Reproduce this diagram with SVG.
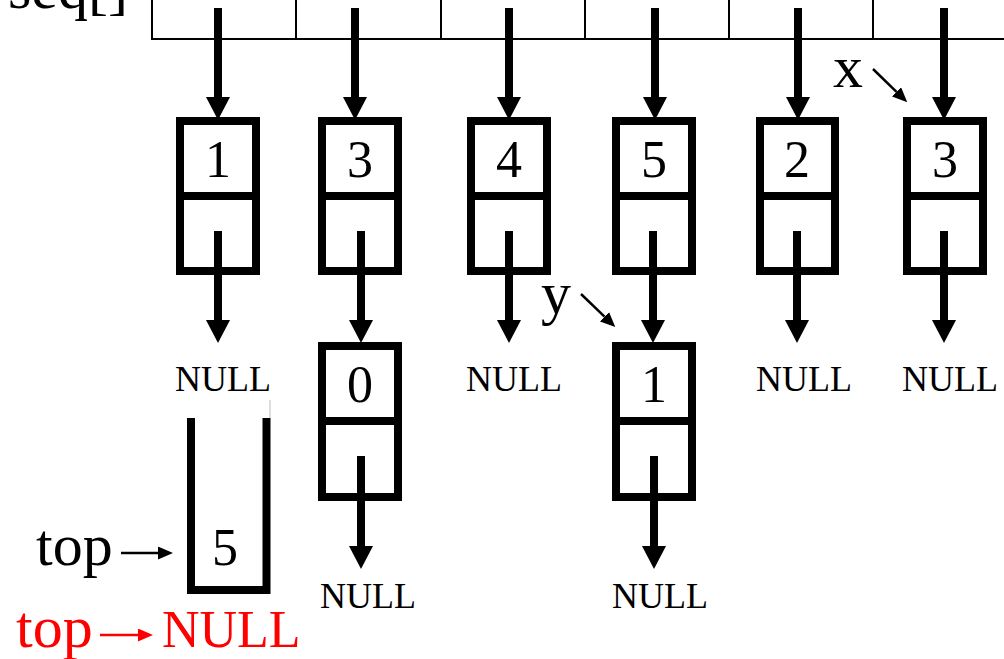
<svg xmlns="http://www.w3.org/2000/svg" width="1004" height="659" viewBox="0 0 1004 659">
<style>
.box{fill:none;stroke:#000;stroke-width:8}
.thin{fill:none;stroke:#000;stroke-width:2}
.sh{stroke:#000;stroke-width:8;fill:none}
.ptr{stroke:#000;stroke-width:2.5;fill:none}
.lbl{font-family:"Liberation Serif","Times New Roman",serif;fill:#000}
.dig{font-family:"Liberation Serif","Times New Roman",serif;font-size:52px;text-anchor:middle;fill:#000}
.nul{font-family:"Liberation Serif","Times New Roman",serif;font-size:36px;fill:#000}
.red{fill:#ff0000}
</style>
<defs>
<marker id="ah" viewBox="0 0 23 24" refX="0" refY="12" markerWidth="23" markerHeight="24" markerUnits="userSpaceOnUse" orient="auto"><path d="M0,0 L23,12 L0,24 z" fill="#000"/></marker>
<marker id="as" viewBox="0 0 15 13" refX="0" refY="6.5" markerWidth="15" markerHeight="13" markerUnits="userSpaceOnUse" orient="auto"><path d="M0,0 L15,6.5 L0,13 z" fill="#000"/></marker>
<marker id="ar" viewBox="0 0 15 13" refX="0" refY="6.5" markerWidth="15" markerHeight="13" markerUnits="userSpaceOnUse" orient="auto"><path d="M0,0 L15,6.5 L0,13 z" fill="#ff0000"/></marker>
</defs>
<rect width="1004" height="659" fill="#fff"/>

<g id="seq">
<text class="lbl" x="8" y="8" font-size="60">seq[]</text>
<path class="thin" d="M152,-10 V39 H1010 M296,-10 V39 M441,-10 V39 M585,-10 V39 M729,-10 V39 M873,-10 V39"/>
</g>

<g id="node-a1">
<rect class="box" x="180" y="121" width="76" height="150"/>
<line class="box" x1="176" y1="196" x2="260" y2="196"/>
<text class="dig" x="218" y="177">1</text>
</g>
<g id="node-a2">
<rect class="box" x="322" y="121" width="76" height="150"/>
<line class="box" x1="318" y1="196" x2="402" y2="196"/>
<text class="dig" x="360" y="177">3</text>
</g>
<g id="node-a3">
<rect class="box" x="471" y="121" width="76" height="150"/>
<line class="box" x1="467" y1="196" x2="551" y2="196"/>
<text class="dig" x="509" y="177">4</text>
</g>
<g id="node-a4">
<rect class="box" x="616" y="121" width="76" height="150"/>
<line class="box" x1="612" y1="196" x2="696" y2="196"/>
<text class="dig" x="654" y="177">5</text>
</g>
<g id="node-a5">
<rect class="box" x="760" y="121" width="75" height="150"/>
<line class="box" x1="756" y1="196" x2="839" y2="196"/>
<text class="dig" x="797" y="177">2</text>
</g>
<g id="node-a6">
<rect class="box" x="907" y="121" width="76" height="150"/>
<line class="box" x1="903" y1="196" x2="987" y2="196"/>
<text class="dig" x="945" y="177">3</text>
</g>
<g id="node-b1">
<rect class="box" x="322" y="346" width="76" height="151"/>
<line class="box" x1="318" y1="421" x2="402" y2="421"/>
<text class="dig" x="360" y="402">0</text>
</g>
<g id="node-b2">
<rect class="box" x="616" y="346" width="76" height="151"/>
<line class="box" x1="612" y1="421" x2="696" y2="421"/>
<text class="dig" x="654" y="402">1</text>
</g>

<g id="stack">
<path class="box" d="M191,418 V590 H266.5 V418"/>
<line x1="270" y1="400" x2="270" y2="418" stroke="#bbb" stroke-width="1"/>
<text class="dig" x="225" y="565">5</text>
</g>

<g id="nulls">
<text class="nul" x="175" y="391">NULL</text>
<text class="nul" x="466" y="391">NULL</text>
<text class="nul" x="756" y="391">NULL</text>
<text class="nul" x="902" y="391">NULL</text>
<text class="nul" x="320" y="608">NULL</text>
<text class="nul" x="612" y="608">NULL</text>
</g>

<g id="labels">
<text class="lbl" x="833" y="87" font-size="60">x</text>
<text class="lbl" x="541" y="313" font-size="60">y</text>
<text class="lbl" x="36" y="565" font-size="60">top</text>
<text class="lbl red" x="16" y="647" font-size="60">top</text>
<text class="lbl red" x="162" y="647" font-size="52">NULL</text>
</g>

<g id="connectors">
<line class="sh" x1="218" y1="8" x2="218" y2="97" marker-end="url(#ah)"/>
<line class="sh" x1="355" y1="8" x2="355" y2="97" marker-end="url(#ah)"/>
<line class="sh" x1="509" y1="8" x2="509" y2="97" marker-end="url(#ah)"/>
<line class="sh" x1="655" y1="8" x2="655" y2="97" marker-end="url(#ah)"/>
<line class="sh" x1="798" y1="8" x2="798" y2="97" marker-end="url(#ah)"/>
<line class="sh" x1="944" y1="8" x2="944" y2="97" marker-end="url(#ah)"/>

<line class="sh" x1="218" y1="231" x2="218" y2="320" marker-end="url(#ah)"/>
<line class="sh" x1="361" y1="231" x2="361" y2="320" marker-end="url(#ah)"/>
<line class="sh" x1="509" y1="231" x2="509" y2="320" marker-end="url(#ah)"/>
<line class="sh" x1="653" y1="231" x2="653" y2="320" marker-end="url(#ah)"/>
<line class="sh" x1="797" y1="231" x2="797" y2="320" marker-end="url(#ah)"/>
<line class="sh" x1="944" y1="231" x2="944" y2="320" marker-end="url(#ah)"/>

<line class="sh" x1="361" y1="456" x2="361" y2="546" marker-end="url(#ah)"/>
<line class="sh" x1="654" y1="456" x2="654" y2="546" marker-end="url(#ah)"/>

<line class="ptr" x1="873" y1="69" x2="896.5" y2="91.8" marker-end="url(#as)"/>
<line class="ptr" x1="581" y1="294" x2="604.5" y2="316.7" marker-end="url(#as)"/>
<line class="ptr" x1="121" y1="553" x2="158" y2="553" marker-end="url(#as)"/>
<line class="ptr" x1="100" y1="635" x2="138" y2="635" stroke="#ff0000" style="stroke:#ff0000" marker-end="url(#ar)"/>
</g>
</svg>
